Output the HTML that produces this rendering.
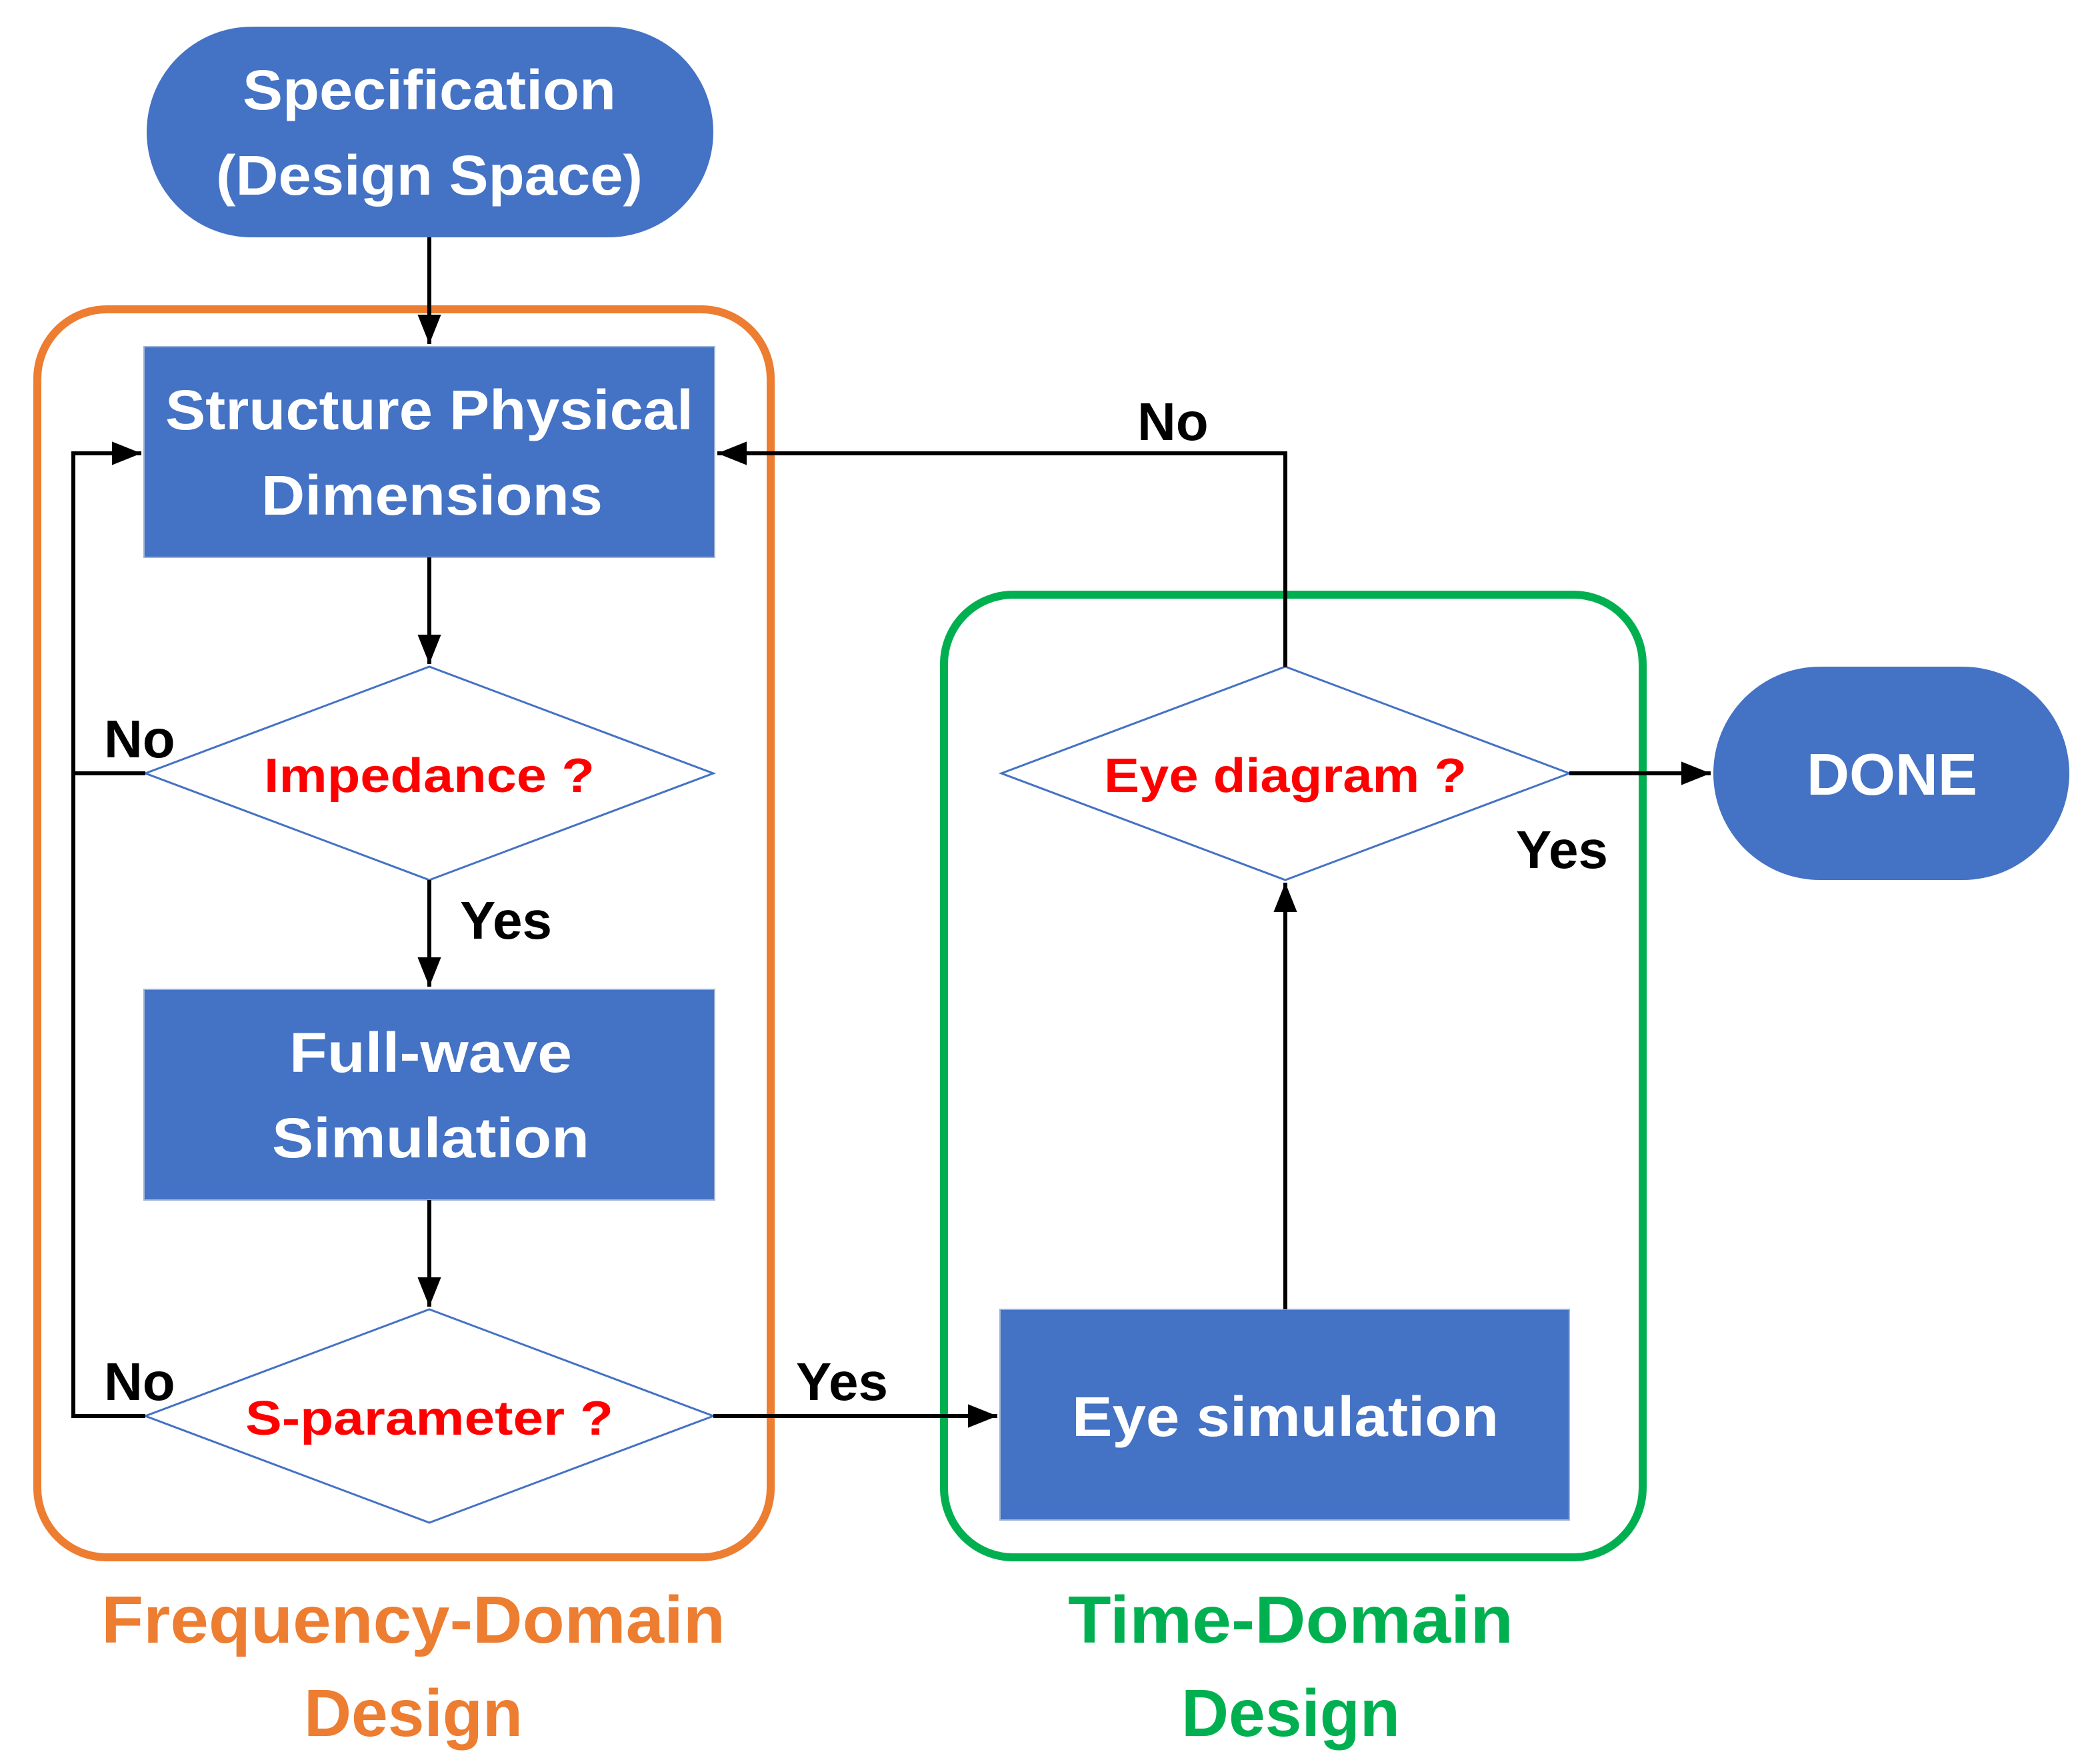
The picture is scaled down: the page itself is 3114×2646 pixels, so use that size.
<!DOCTYPE html>
<html><head><meta charset="utf-8"><style>
html,body{margin:0;padding:0;background:#fff;}
svg{display:block;}
text{font-family:"Liberation Sans",sans-serif;font-weight:bold;}
</style></head><body>
<svg width="3114" height="2646" viewBox="0 0 1557 1323" xmlns="http://www.w3.org/2000/svg">
<defs>
<marker id="a" viewBox="0 0 10 10" refX="10" refY="5" markerWidth="5" markerHeight="5" orient="auto-start-reverse" markerUnits="userSpaceOnUse">
<path d="M0,0 L10,5 L0,10 z" fill="#000"/></marker>
<marker id="b" viewBox="0 0 10 10" refX="10" refY="5" markerWidth="22" markerHeight="22" orient="auto" markerUnits="userSpaceOnUse">
<path d="M0,1 L10,5 L0,9 z" fill="#000"/></marker>
</defs>
<!-- frames -->
<rect x="28" y="232" width="550" height="936" rx="52" fill="none" stroke="#ED7D31" stroke-width="6"/>
<rect x="708" y="446" width="524" height="722" rx="52" fill="none" stroke="#00B050" stroke-width="6"/>
<!-- nodes -->
<rect x="110" y="20" width="425" height="158" rx="79" fill="#4472C4"/>
<text x="322" y="82" font-size="42" fill="#fff" text-anchor="middle" textLength="280" lengthAdjust="spacingAndGlyphs">Specification</text>
<text x="322" y="146" font-size="42" fill="#fff" text-anchor="middle" textLength="320" lengthAdjust="spacingAndGlyphs">(Design Space)</text>

<rect x="108" y="260" width="428" height="158" fill="#4472C4" stroke="#9fb3d6" stroke-width="1"/>
<text x="322" y="322" font-size="42" fill="#fff" text-anchor="middle" textLength="396" lengthAdjust="spacingAndGlyphs">Structure Physical</text>
<text x="324" y="386" font-size="42" fill="#fff" text-anchor="middle" textLength="256" lengthAdjust="spacingAndGlyphs">Dimensions</text>

<polygon points="109,580 322,500 535,580 322,660" fill="#fff" stroke="#4472C4" stroke-width="1.5"/>
<text x="322" y="594" font-size="36" fill="#FF0000" text-anchor="middle" textLength="248" lengthAdjust="spacingAndGlyphs">Impedance ?</text>

<rect x="108" y="742" width="428" height="158" fill="#4472C4" stroke="#9fb3d6" stroke-width="1"/>
<text x="323" y="804" font-size="42" fill="#fff" text-anchor="middle" textLength="212" lengthAdjust="spacingAndGlyphs">Full-wave</text>
<text x="323" y="868" font-size="42" fill="#fff" text-anchor="middle" textLength="238" lengthAdjust="spacingAndGlyphs">Simulation</text>

<polygon points="109,1062 322,982 535,1062 322,1142" fill="#fff" stroke="#4472C4" stroke-width="1.5"/>
<text x="322" y="1076" font-size="36" fill="#FF0000" text-anchor="middle" textLength="276" lengthAdjust="spacingAndGlyphs">S-parameter ?</text>

<rect x="750" y="982" width="427" height="158" fill="#4472C4" stroke="#9fb3d6" stroke-width="1"/>
<text x="964" y="1077" font-size="42" fill="#fff" text-anchor="middle" textLength="320" lengthAdjust="spacingAndGlyphs">Eye simulation</text>

<polygon points="751,580 964,500 1177,580 964,660" fill="#fff" stroke="#4472C4" stroke-width="1.5"/>
<text x="964" y="594" font-size="36" fill="#FF0000" text-anchor="middle" textLength="272" lengthAdjust="spacingAndGlyphs">Eye diagram ?</text>

<rect x="1285" y="500" width="267" height="160" rx="80" fill="#4472C4"/>
<text x="1419" y="596" font-size="44" fill="#fff" text-anchor="middle" textLength="128" lengthAdjust="spacingAndGlyphs">DONE</text>

<!-- connectors -->
<g stroke="#000" stroke-width="3" fill="none">
<line x1="322" y1="178" x2="322" y2="258" marker-end="url(#b)"/>
<line x1="322" y1="418" x2="322" y2="498" marker-end="url(#b)"/>
<line x1="322" y1="660" x2="322" y2="740" marker-end="url(#b)"/>
<line x1="322" y1="900" x2="322" y2="980" marker-end="url(#b)"/>
<polyline points="109,1062 55,1062 55,340 106,340" marker-end="url(#b)"/>
<line x1="55" y1="580" x2="109" y2="580"/>
<line x1="535" y1="1062" x2="748" y2="1062" marker-end="url(#b)"/>
<line x1="964" y1="982" x2="964" y2="662" marker-end="url(#b)"/>
<polyline points="964,500 964,340 538,340" marker-end="url(#b)"/>
<line x1="1177" y1="580" x2="1283" y2="580" marker-end="url(#b)"/>
</g>
<!-- labels -->
<g font-size="40" fill="#000">
<text x="78" y="568">No</text>
<text x="78" y="1050">No</text>
<text x="345" y="704">Yes</text>
<text x="597" y="1050">Yes</text>
<text x="853" y="330">No</text>
<text x="1137" y="651">Yes</text>
</g>
<g font-size="50" text-anchor="middle">
<text x="310" y="1232" fill="#ED7D31" textLength="468" lengthAdjust="spacingAndGlyphs">Frequency-Domain</text>
<text x="310" y="1302" fill="#ED7D31" textLength="164" lengthAdjust="spacingAndGlyphs">Design</text>
<text x="968" y="1232" fill="#00B050" textLength="334" lengthAdjust="spacingAndGlyphs">Time-Domain</text>
<text x="968" y="1302" fill="#00B050" textLength="164" lengthAdjust="spacingAndGlyphs">Design</text>
</g>
</svg>
</body></html>
